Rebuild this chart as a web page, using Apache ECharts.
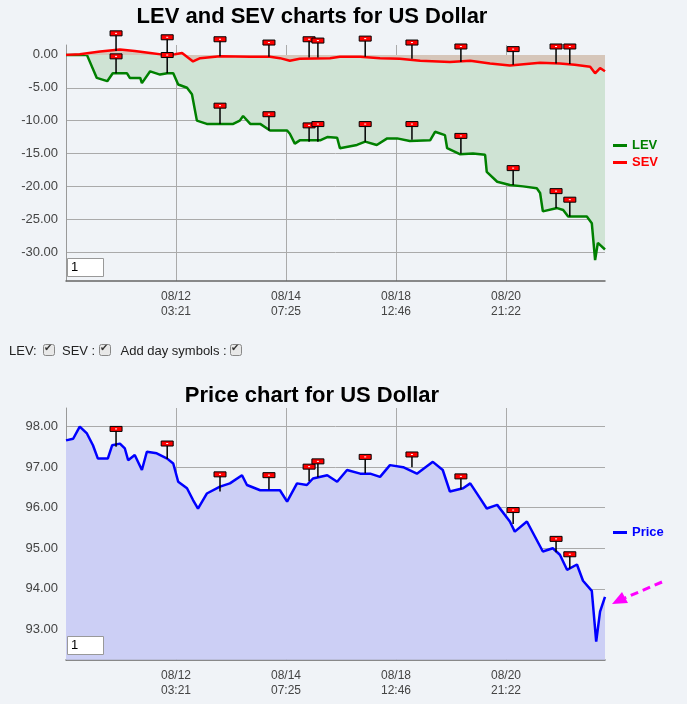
<!DOCTYPE html>
<html>
<head>
<meta charset="utf-8">
<title>LEV SEV</title>
<script src="https://cdn.jsdelivr.net/npm/echarts@6/dist/echarts.min.js"></script>
<style>
  html, body { margin: 0; padding: 0; background: #f0f3f7; }
  #main { width: 687px; height: 704px; }
</style>
</head>
<body>
<div id="main"></div>
<script>
// x tick labels (every 20 index steps)
var tickLabels = ['', '08/12\n03:21', '08/14\n07:25', '08/18\n12:46', '08/20\n21:22'];

// [index, value]
var levData = [[0,0],[3.8,0],[5.6,-3.5],[7.5,-4],[8.5,-2.8],[11.1,-2.8],[11.6,-3.5],[13.5,-3.5],[13.8,-4.3],[15.3,-2.5],
  [17.1,-3],[18.4,-2.8],[19.5,-2.8],[20.4,-4.5],[22,-5],[22.9,-6],[23.8,-10],[25.6,-10.5],[30.4,-10.5],[31.6,-10],
  [32.2,-9.3],[33.5,-10.5],[35.3,-10.5],[37.1,-11.5],[40.2,-11.5],[40.7,-12],[41.6,-13.5],[42.5,-13],[46.2,-13],[47.5,-12.5],
  [49.3,-12.6],[49.8,-14.2],[52.9,-13.7],[54.4,-13.2],[56.5,-13.7],[58.4,-12.7],[60.2,-12.7],[62.5,-13.1],[66.2,-13],[67.1,-11.7],
  [68.9,-12.2],[69.3,-14.2],[71.6,-15.1],[74,-15],[76.2,-15.2],[76.5,-17.8],[78.4,-19.3],[80.7,-19.8],[83.1,-20],[85.6,-20.3],
  [86.2,-21],[86.7,-23.8],[89.3,-23.3],[90.4,-23.6],[91.3,-24.6],[94.7,-24.6],[95.6,-25.6],[96.2,-31.2],[96.7,-28.6],[98,-29.6]];

var sevData = [[0,0],[2.5,0.1],[6.2,0.5],[9.8,0.8],[12.5,0.6],[15.3,0.3],[18,0],[19.8,0.1],[21.1,0.3],[23.1,-1],
  [24.4,-0.5],[28,-0.2],[33.5,-0.3],[37.1,-0.3],[38.9,-0.5],[40.7,-0.9],[42.5,-0.6],[48,-0.5],[49.8,-0.3],[53.5,-0.3],
  [57.1,-0.5],[60.7,-0.6],[64.4,-0.9],[69.8,-1.1],[73.5,-0.9],[77.1,-1.3],[80.7,-1.6],[86.2,-1.2],[89.8,-1.3],[92.5,-1.5],
  [95.3,-1.8],[96.2,-2.8],[97.1,-2],[98,-2.5]];

var priceData = [[0,97.66],[1.3,97.7],[2.5,98.0],[3.8,97.83],[4.9,97.54],[5.8,97.21],[7.6,97.21],[8.4,97.54],[9.8,97.58],[10.7,97.46],
  [11.3,97.17],[12.5,97.3],[13.8,96.93],[14.7,97.38],[16.5,97.34],[18.4,97.21],[19.5,97.09],[20.4,96.64],[22,96.48],[23.1,96.19],
  [24,95.98],[25.6,96.35],[28,96.52],[29.8,96.6],[32,96.8],[32.9,96.56],[35.3,96.43],[38.9,96.43],[40.2,96.15],[42,96.6],
  [43.8,96.56],[44.9,96.72],[47.5,96.8],[49.3,96.64],[51.1,96.93],[53.5,96.84],[55.3,96.84],[57.1,96.76],[58.9,97.05],[61.3,97.0],
  [63.8,96.84],[66.7,97.13],[68.5,96.93],[69.8,96.4],[72.2,96.48],[73.5,96.6],[75.3,96.23],[76.5,95.98],[78.4,96.07],[80.7,95.66],
  [81.6,95.41],[83.8,95.66],[86.7,94.92],[88.5,95.0],[89.8,94.84],[91.1,94.47],[92.9,94.6],[94,94.2],[95.6,93.95],[96.4,92.7],
  [97.1,93.44],[98,93.8]];

// day symbols: position, base (on line) and flag top
var flagX = [9.1, 18.4, 28, 36.9, 44.2, 45.8, 54.4, 62.9, 71.8, 81.3, 89.1, 91.6];
var sevFlagBase = [0.6, 0, -0.2, -0.3, -0.4, -0.4, -0.3, -0.6, -1.1, -1.5, -1.3, -1.4];
var sevFlagTop = [3.2, 2.6, 2.3, 1.8, 2.3, 2.1, 2.4, 1.8, 1.2, 0.8, 1.2, 1.2];
var levFlagBase = [-2.8, -2.8, -10.5, -11.5, -13.2, -13.2, -13.2, -12.9, -15, -19.8, -23.3, -24.6];
var levFlagTop = [-0.3, -0.1, -7.8, -9.1, -10.8, -10.6, -10.6, -10.6, -12.4, -17.3, -20.8, -22.1];
var priceFlagBase = [97.5, 97.2, 96.4, 96.45, 96.65, 96.75, 96.85, 97.0, 96.45, 95.6, 94.9, 94.5];
var priceFlagTop = [97.93, 97.57, 96.81, 96.79, 97.0, 97.13, 97.24, 97.3, 96.76, 95.93, 95.22, 94.84];

function flagSeries(base, top, idx) {
  var d = flagX.map(function (x, i) { return [x, base[i], top[i]]; });
  return {
    type: 'custom', xAxisIndex: idx, yAxisIndex: idx, data: d, z: 5, silent: true,
    renderItem: function (params, api) {
      var p1 = api.coord([api.value(0), api.value(1)]);
      var p2 = api.coord([api.value(0), api.value(2)]);
      return {
        type: 'group',
        children: [
          { type: 'line', shape: { x1: p1[0], y1: p1[1], x2: p2[0], y2: p2[1] }, style: { stroke: '#000', lineWidth: 1.5 } },
          { type: 'rect', shape: { x: p2[0] - 6, y: p2[1] - 3, width: 12, height: 5 }, style: { fill: '#ff0000', stroke: '#000', lineWidth: 1 } },
          { type: 'line', shape: { x1: p2[0] - 1, y1: p2[1] - 0.5, x2: p2[0] + 1, y2: p2[1] - 0.5 }, style: { stroke: '#fff', lineWidth: 1 } }
        ]
      };
    }
  };
}

var font = 'Liberation Sans, Arial, sans-serif';

// data axes (no decoration)
function dataX(idx) {
  return { type: 'value', gridIndex: idx, min: 0, max: 98, show: false };
}
// frame axes over the visible plot area
function frameX(idx) {
  return {
    type: 'value', gridIndex: idx, min: 0, max: 98, interval: 20,
    axisLine: { lineStyle: { color: '#666', width: 1.5 } },
    axisTick: { show: false },
    splitLine: { show: true, showMinLine: false, showMaxLine: false, lineStyle: { color: '#aaa' } },
    axisLabel: {
      color: '#444', fontFamily: font, fontSize: 12, lineHeight: 15, showMinLabel: false, showMaxLabel: false,
      formatter: function (v) { return tickLabels[Math.round(v / 20)] || ''; }
    }
  };
}
function frameY(idx) {
  return { type: 'value', gridIndex: idx, min: 0, max: 1, axisLine: { show: true, lineStyle: { color: '#999' } },
    axisTick: { show: false }, axisLabel: { show: false }, splitLine: { show: false } };
}
function dataY(idx, lo, hi, step) {
  return { type: 'value', gridIndex: idx, min: lo, max: hi, interval: step,
    axisLine: { show: false }, axisTick: { show: false },
    splitLine: { showMaxLine: false, showMinLine: false, lineStyle: { color: '#aaa' } },
    axisLabel: { showMaxLabel: false, showMinLabel: false, color: '#444', fontFamily: font, fontSize: 13,
      formatter: function (v) { return v.toFixed(2); } } };
}

var chart = echarts.init(document.getElementById('main'));
chart.setOption({
  backgroundColor: '#f0f3f7',
  animation: false,
  title: [
    { text: 'LEV and SEV charts for US Dollar', left: 307, top: 1, textAlign: 'center',
      textStyle: { fontFamily: font, fontSize: 22, fontWeight: 'bold', color: '#000' } },
    { text: 'Price chart for US Dollar', left: 307, top: 380, textAlign: 'center',
      textStyle: { fontFamily: font, fontSize: 22, fontWeight: 'bold', color: '#000' } }
  ],
  legend: [
    { data: ['LEV', 'SEV'], orient: 'vertical', left: 608, top: 134, itemWidth: 14, itemHeight: 3, itemGap: 4,
      icon: 'rect', textStyle: { fontFamily: font, fontSize: 13, fontWeight: 'bold', color: 'inherit' } },
    { data: ['Price'], orient: 'vertical', left: 608, top: 521, itemWidth: 14, itemHeight: 3,
      icon: 'rect', textStyle: { fontFamily: font, fontSize: 13, fontWeight: 'bold', color: 'inherit' } }
  ],
  grid: [
    { left: 66, right: 82, top: 22, bottom: 419 },
    { left: 66, right: 82, top: 386, bottom: 34 },
    { left: 66, right: 82, top: 45, bottom: 423 },
    { left: 66, right: 82, top: 408, bottom: 44 }
  ],
  xAxis: [dataX(0), dataX(1), frameX(2), frameX(3)],
  yAxis: [dataY(0, -35, 5, 5), dataY(1, 92, 99, 1), frameY(2), frameY(3)],
  series: [
    { name: 'LEV', type: 'line', data: levData, showSymbol: false, z: 2,
      lineStyle: { color: '#008000', width: 2.5 }, itemStyle: { color: '#008000' },
      areaStyle: { color: '#cfe3d4', opacity: 1 } },
    { name: 'SEV', type: 'line', data: sevData, showSymbol: false, z: 3,
      lineStyle: { color: '#ff0000', width: 2.5 }, itemStyle: { color: '#ff0000' },
      areaStyle: { color: '#d6c6ba', opacity: 1 } },
    flagSeries(sevFlagBase, sevFlagTop, 0),
    flagSeries(levFlagBase, levFlagTop, 0),
    { name: 'Price', type: 'line', xAxisIndex: 1, yAxisIndex: 1, data: priceData, showSymbol: false, z: 2,
      lineStyle: { color: '#0000ff', width: 2.5 }, itemStyle: { color: '#0000ff' },
      areaStyle: { color: '#cccff5', opacity: 1, origin: 92.25 } },
    flagSeries(priceFlagBase, priceFlagTop, 1)
  ],
  graphic: [
    { type: 'rect', left: 67, top: 258, shape: { width: 36, height: 18 }, style: { fill: '#fff', stroke: '#999' }, z: 10 },
    { type: 'text', left: 71, top: 261, style: { text: '1', font: '13px ' + font, fill: '#000' }, z: 11 },
    { type: 'rect', left: 67, top: 636, shape: { width: 36, height: 18 }, style: { fill: '#fff', stroke: '#999' }, z: 10 },
    { type: 'text', left: 71, top: 639, style: { text: '1', font: '13px ' + font, fill: '#000' }, z: 11 },
    { type: 'text', left: 9, top: 345, style: { text: 'LEV:       SEV :       Add day symbols :', font: '13px ' + font, fill: '#222' } },
    { type: 'rect', left: 43, top: 344, shape: { width: 11, height: 11, r: 2 }, style: { fill: '#e8e8e8', stroke: '#888' } },
    { type: 'text', left: 44, top: 343, style: { text: '✔', font: '10px DejaVu Sans', fill: '#333' } },
    { type: 'rect', left: 99, top: 344, shape: { width: 11, height: 11, r: 2 }, style: { fill: '#e8e8e8', stroke: '#888' } },
    { type: 'text', left: 100, top: 343, style: { text: '✔', font: '10px DejaVu Sans', fill: '#333' } },
    { type: 'rect', left: 230, top: 344, shape: { width: 11, height: 11, r: 2 }, style: { fill: '#e8e8e8', stroke: '#888' } },
    { type: 'text', left: 231, top: 343, style: { text: '✔', font: '10px DejaVu Sans', fill: '#333' } },
    { type: 'line', shape: { x1: 662, y1: 582, x2: 625, y2: 598 }, style: { stroke: '#ff00ff', lineWidth: 3, lineDash: [8, 5] } },
    { type: 'polygon', shape: { points: [[612, 604], [622, 592], [628, 603]] }, style: { fill: '#ff00ff' } }
  ]
});
</script>
</body>
</html>
